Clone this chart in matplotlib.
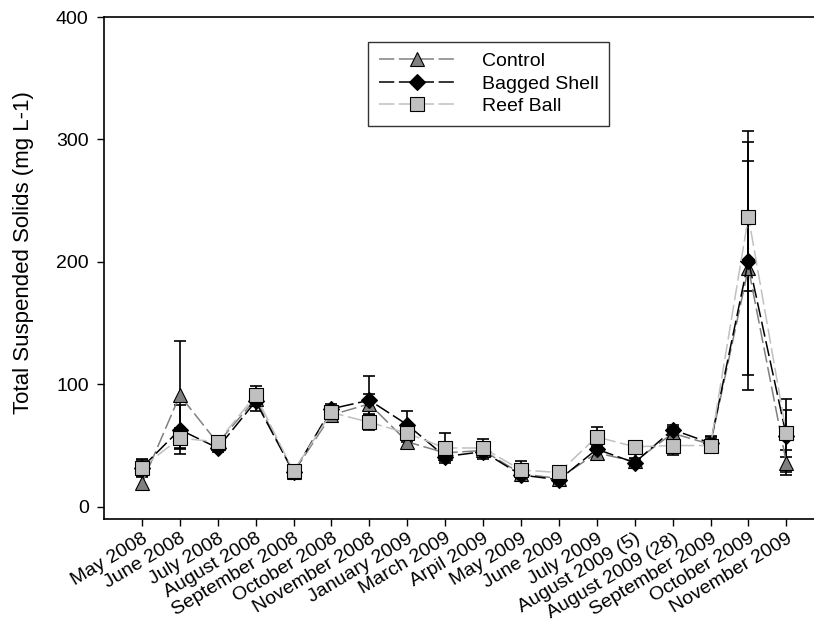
import matplotlib
matplotlib.use("Agg")
import matplotlib.pyplot as plt
import numpy as np

plt.rcParams["font.family"] = ["Liberation Sans", "DejaVu Sans"]

months = [
    "May 2008", "June 2008", "July 2008", "August 2008", "September 2008",
    "October 2008", "November 2008", "January 2009", "March 2009", "Arpil 2009",
    "May 2009", "June 2009", "July 2009", "August 2009 (5)", "August 2009 (28)",
    "September 2009", "October 2009", "November 2009",
]

control = [19, 91, 52, 88, 28, 75, 84, 53, 44, 46, 27, 23, 44, 37, 60, 51, 195, 36]
control_err = [5, 44, 3, 5, 2, 4, 8, 6, 4, 5, 4, 3, 6, 3, 5, 6, 87, 10]

bagged = [32, 63, 48, 86, 28, 80, 87, 67, 41, 45, 26, 22, 47, 36, 63, 52, 201, 58]
bagged_err = [7, 20, 3, 8, 2, 4, 20, 11, 4, 6, 5, 3, 8, 3, 4, 6, 106, 30]

reef = [32, 56, 53, 91, 29, 77, 69, 60, 48, 48, 30, 28, 57, 49, 50, 50, 237, 60]
reef_err = [6, 8, 3, 8, 2, 4, 6, 7, 12, 7, 7, 3, 8, 2, 8, 5, 61, 19]

series = [
    ("Control", control, control_err, "^", "#808080", "#808080"),
    ("Bagged Shell", bagged, bagged_err, "D", "black", "black"),
    ("Reef Ball", reef, reef_err, "s", "#c0c0c0", "#c0c0c0"),
]

fig = plt.figure(figsize=(8.14, 6.23), dpi=100)
ax = fig.add_axes([104 / 814, 1 - 519 / 623, 1 - 104 / 814, (519 - 17) / 623])

x = np.arange(len(months))
for name, vals, err, marker, line_color, face in series:
    ax.errorbar(x, vals, yerr=err, fmt="none", ecolor="black", elinewidth=1.2,
                capsize=4.5, capthick=1.2, zorder=2)
    ax.plot(x, vals, color=line_color, linewidth=1.1, dashes=(10, 3),
            marker=marker, markersize=9.5 if marker != "D" else 8,
            markerfacecolor=face, markeredgecolor="black", markeredgewidth=0.8,
            label=name, zorder=3)

ax.set_xlim(-1, 17.73)
ax.set_ylim(-10, 400)
ax.set_yticks([0, 100, 200, 300, 400])
ax.set_xticks(x)
ax.set_xticklabels(months, rotation=31, ha="right", rotation_mode="anchor")
ax.tick_params(axis="both", direction="out", length=5, width=1, labelsize=14)
ax.tick_params(axis="x", pad=3)
ax.tick_params(axis="y", pad=6)

ax.spines["right"].set_visible(False)
for side in ["left", "bottom", "top"]:
    ax.spines[side].set_linewidth(1.2)

ax.set_ylabel("Total Suspended Solids (mg L-1)", fontsize=16)
ax.yaxis.set_label_coords(-0.099, 0.53)

leg = ax.legend(loc="upper left", bbox_to_anchor=(368 / 814, 1 - 42 / 623),
                bbox_transform=fig.transFigure, fontsize=14, frameon=True,
                fancybox=False, edgecolor="black", handlelength=3.9,
                handletextpad=1.4, borderpad=0.55, labelspacing=0.25,
                borderaxespad=0)
leg.get_frame().set_linewidth(1.0)

fig.savefig("out.png", dpi=100)
